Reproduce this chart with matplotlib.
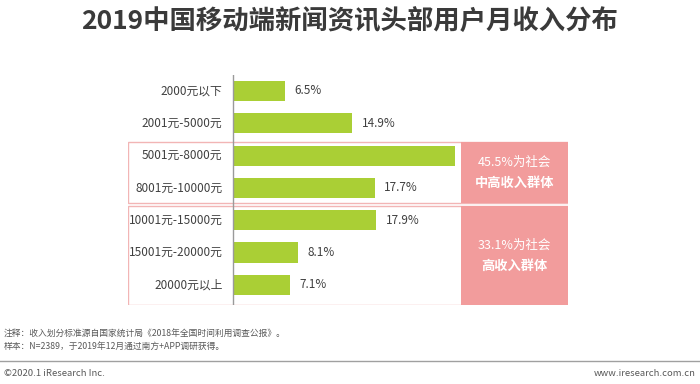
import matplotlib.pyplot as plt
from matplotlib.patches import Rectangle

plt.rcParams['font.family'] = ['Noto Sans CJK SC', 'DejaVu Sans']

categories = ['2000元以下', '2001元-5000元', '5001元-8000元', '8001元-10000元',
              '10001元-15000元', '15001元-20000元', '20000元以上']
values = [6.5, 14.9, 27.8, 17.7, 17.9, 8.1, 7.1]
show_label = [True, True, False, True, True, True, True]

title = '2019中国移动端新闻资讯头部用户月收入分布'
box_texts = [('45.5%为社会', '中高收入群体'), ('33.1%为社会', '高收入群体')]
notes = ['注释：收入划分标准源自国家统计局《2018年全国时间利用调查公报》。',
         '样本：N=2389，于2019年12月通过南方+APP调研获得。']

W, H = 700, 384
fig = plt.figure(figsize=(7, 3.84), dpi=100)

# bar area: x pixels 128..568, y pixels 75..305
ax = fig.add_axes([128 / W, 1 - 305 / H, 440 / W, 230 / H])
ax.set_xlim(-105 / 8, 335 / 8)
row = 32.3
ax.set_ylim((305 - 91) / row, (75 - 91) / row)
ax.axis('off')

pos = range(len(categories))
ax.barh(pos, values, height=0.62, color='#AACF35', zorder=3)
ax.axvline(0, color='#9a9a9a', lw=1, zorder=4)
for i, (c, v) in enumerate(zip(categories, values)):
    ax.text(-1.3, i, c, ha='right', va='center', fontsize=8.5, color='#404040')
    if show_label[i]:
        ax.text(v + 1.2, i, f'{v}%', ha='left', va='center', fontsize=8.5, color='#404040')

# group boxes
boxes = [((142 - 91) / row, (203 - 91) / row), ((206 - 91) / row, (305 - 91) / row)]
xl, xr = ax.get_xlim()
split = (461 - 233) / 8
for (b0, b1), (t1, t2) in zip(boxes, box_texts):
    ax.add_patch(Rectangle((xl + 0.05, b0), xr - xl - 0.1, b1 - b0, fill=False,
                           ec='#F2B5B5', lw=1, zorder=2))
    ax.add_patch(Rectangle((split, b0), xr - split - 0.05, b1 - b0,
                           fc='#F29C9C', ec='none', zorder=2))
    xm = (split + xr) / 2
    ym = (b0 + b1) / 2
    ax.text(xm, ym - 0.32, t1, ha='center', va='center', fontsize=9, color='white')
    ax.text(xm, ym + 0.32, t2, ha='center', va='center', fontsize=9.5,
            color='white', fontweight='bold')

fig.text(0.5, 1 - 22 / H, title, ha='center', va='center', fontsize=19,
         fontweight='bold', color='#3a3a3a')
fig.text(4 / W, 1 - 334 / H, notes[0], ha='left', va='center', fontsize=6.3, color='#595959')
fig.text(4 / W, 1 - 346 / H, notes[1], ha='left', va='center', fontsize=6.3, color='#595959')
fig.add_artist(plt.Line2D([0, 1], [1 - 361 / H] * 2, color='#a0a0a0', lw=1))
fig.text(4 / W, 1 - 373 / H, '©2020.1 iResearch Inc.', ha='left', va='center',
         fontsize=6.8, color='#595959')
fig.text(696 / W, 1 - 373 / H, 'www.iresearch.com.cn', ha='right', va='center',
         fontsize=6.8, color='#595959')

fig.savefig('out.png', dpi=100, facecolor='white')
